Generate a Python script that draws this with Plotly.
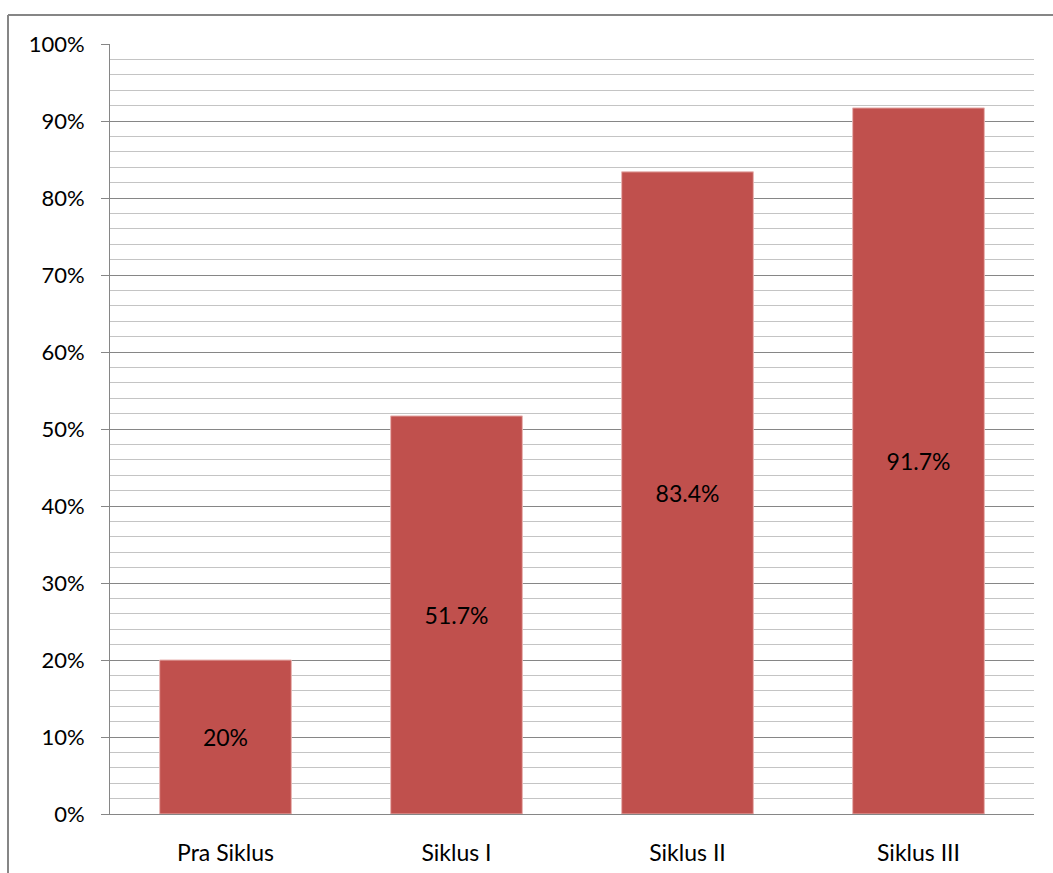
import plotly.graph_objects as go

categories = ["Pra Siklus", "Siklus I", "Siklus II", "Siklus III"]
values = [0.20, 0.517, 0.834, 0.917]
labels = ["20%", "51.7%", "83.4%", "91.7%"]

W, H = 1053, 873
L, R, T, B = 110, 19, 44, 59
pw, ph = W - L - R, H - T - B

fig = go.Figure(go.Bar(
    x=categories, y=values, text=labels,
    textposition="inside", insidetextanchor="middle",
    textfont=dict(color="black", size=23),
    marker=dict(color="#C0504D", line=dict(color="#E8B5B3", width=1)),
    width=0.57, hoverinfo="skip",
))

def px_x(p):
    return (p - L) / pw

def px_y(p):
    return (H - B - p) / ph

fig.update_layout(
    width=W, height=H,
    margin=dict(l=L, r=R, t=T, b=B),
    paper_bgcolor="white", plot_bgcolor="white",
    font=dict(family="Lato, Liberation Sans, sans-serif", size=22, color="black"),
    showlegend=False,
    shapes=[
        dict(type="line", xref="paper", yref="paper",
             x0=px_x(8), x1=px_x(1070), y0=px_y(15), y1=px_y(15),
             line=dict(color="#868686", width=2)),
        dict(type="line", xref="paper", yref="paper",
             x0=px_x(8), x1=px_x(8), y0=px_y(15), y1=px_y(890),
             line=dict(color="#868686", width=2)),
    ],
)
fig.update_yaxes(
    range=[0, 1], dtick=0.1, tickformat=".0%",
    showgrid=True, gridcolor="#868686", gridwidth=1,
    ticks="outside", ticklen=8, tickcolor="#868686",
    showline=True, linecolor="#868686", linewidth=1,
    ticklabelstandoff=12, automargin=False,
    tickfont=dict(size=22),
    minor=dict(dtick=0.02, showgrid=True, gridcolor="#C4C4C4", gridwidth=1, ticks=""),
    zeroline=False,
)
fig.update_xaxes(
    showline=True, linecolor="#868686", linewidth=1,
    ticks="", ticklabelstandoff=18, tickfont=dict(size=23), automargin=False,
)

fig.write_html("out.html")
